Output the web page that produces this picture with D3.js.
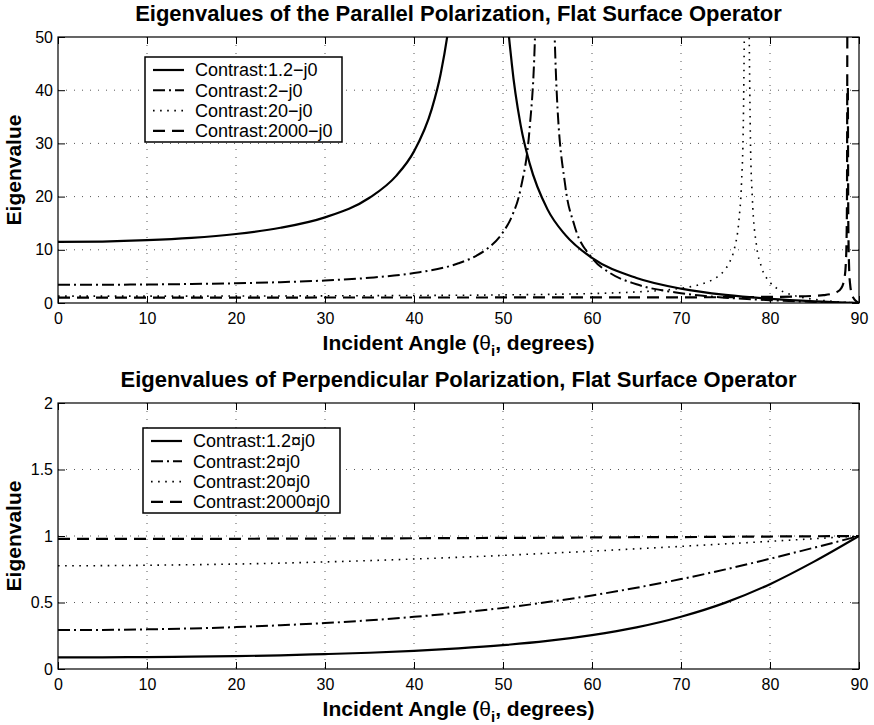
<!DOCTYPE html>
<html>
<head>
<meta charset="utf-8">
<script src="https://cdn.jsdelivr.net/npm/d3@7/dist/d3.min.js"></script>
<style>
  body { margin: 0; background: #fff; }
  svg text { font-family: "Liberation Sans", Arial, Helvetica, sans-serif; fill: #000; }
</style>
</head>
<body>
<div id="chart"></div>
<script>

// ---- tick labels / text ----
var xTicks = [0, 10, 20, 30, 40, 50, 60, 70, 80, 90];
var topYTicks = [0, 10, 20, 30, 40, 50];
var botYTicks = [0, 0.5, 1, 1.5, 2];
var topTitle = "Eigenvalues of the Parallel Polarization, Flat Surface Operator";
var botTitle = "Eigenvalues of Perpendicular Polarization, Flat Surface Operator";
var topLegend = ["Contrast:1.2\u2212j0", "Contrast:2\u2212j0", "Contrast:20\u2212j0", "Contrast:2000\u2212j0"];
var botLegend = ["Contrast:1.2\u00a4j0", "Contrast:2\u00a4j0", "Contrast:20\u00a4j0", "Contrast:2000\u00a4j0"];

// ---- parallel polarization (null = pole, line breaks there) ----
var parAngle12 = [0, 5, 10, 15, 20, 25, 30, 35, 38, 40, 42, 43, 44, 45, 46, 47, 47.6, 49, 50, 51, 52, 53, 55, 57, 60, 65, 70, 75, 80, 85, 90];
var parValue12 = [11.48, 11.55, 11.80, 12.24, 12.97, 14.14, 16.10, 19.78, 23.9, 28.5, 36.5, 43.1, 53.4, 71.5, 112, 287, null, 117, 65.9, 44.8, 33.3, 26.2, 17.6, 12.8, 8.47, 4.69, 2.69, 1.51, 0.77, 0.30, 0];

var parAngle2 = [0, 5, 10, 15, 20, 25, 30, 35, 40, 45, 47, 48, 50, 51, 52, 53, 53.5, 54, 54.7, 55.5, 56, 57, 58, 60, 62, 65, 70, 75, 80, 85, 90];
var parValue2 = [3.41, 3.43, 3.48, 3.57, 3.71, 3.92, 4.23, 4.74, 5.63, 7.46, 8.88, 9.91, 13.3, 16.3, 21.6, 33.0, 45.6, 75.2, null, 68.9, 40.9, 22.0, 14.7, 8.47, 5.66, 3.52, 1.84, 1.00, 0.52, 0.21, 0];

var parAngle20 = [0, 10, 20, 30, 40, 50, 55, 60, 65, 68, 70, 72, 73, 74, 75, 75.5, 76, 76.5, 76.8, 77, 77.2, 77.4, 77.6, 77.8, 78, 78.5, 79, 80, 81, 82, 83, 85, 87, 90];
var parValue20 = [1.29, 1.29, 1.31, 1.35, 1.41, 1.52, 1.62, 1.78, 2.08, 2.40, 2.77, 3.41, 3.95, 4.81, 6.39, 7.81, 10.2, 15.4, 22.6, 33.5, 66.9, null, 61.9, 30.8, 20.2, 10.6, 6.98, 3.91, 2.54, 1.76, 1.27, 0.67, 0.32, 0];

var parAngle2000 = [0, 10, 20, 30, 40, 50, 60, 65, 70, 75, 80, 83, 85, 86, 87, 87.5, 88, 88.2, 88.4, 88.5, 88.6, 88.65, 88.7, 88.72, 88.75, 88.8, 88.9, 89, 89.2, 89.4, 89.6, 89.8, 90];
var parValue2000 = [1.02, 1.02, 1.02, 1.03, 1.03, 1.04, 1.05, 1.06, 1.07, 1.09, 1.15, 1.22, 1.35, 1.47, 1.75, 2.05, 2.78, 3.47, 5.02, 6.85, 11.8, 19.6, 68, null, 40.4, 14.8, 6.07, 3.56, 1.66, 0.88, 0.45, 0.19, 0];

// ---- perpendicular polarization ----
var perpAngle = [0, 5, 10, 15, 20, 25, 30, 35, 40, 45, 50, 55, 60, 65, 70, 75, 80, 85, 90];
var perpValue12 = [0.087, 0.088, 0.090, 0.093, 0.097, 0.103, 0.112, 0.122, 0.136, 0.155, 0.179, 0.211, 0.255, 0.313, 0.393, 0.499, 0.638, 0.809, 1.0];
var perpValue2 = [0.293, 0.294, 0.298, 0.305, 0.315, 0.329, 0.345, 0.366, 0.392, 0.423, 0.459, 0.503, 0.553, 0.611, 0.676, 0.749, 0.829, 0.913, 1.0];
var perpValue20 = [0.776, 0.777, 0.780, 0.784, 0.789, 0.796, 0.805, 0.815, 0.827, 0.840, 0.854, 0.870, 0.886, 0.904, 0.922, 0.941, 0.960, 0.980, 1.0];
var perpValue2000 = [0.978, 0.978, 0.978, 0.978, 0.979, 0.980, 0.981, 0.982, 0.983, 0.984, 0.986, 0.987, 0.989, 0.991, 0.992, 0.994, 0.996, 0.998, 1.0];

// line styles for the 4 contrasts
var styles = [
  { dash: null, width: 2.2 },
  { dash: "12,4,2,4", width: 2 },
  { dash: "1.6,5.5", width: 1.6 },
  { dash: "12,7", width: 2.2 }
];

var svgWidth = 874, svgHeight = 725;
var margin = { left: 58, right: 15 };
var width = 859 - margin.left;
var height = 266;

var svg = d3.select("#chart").append("svg")
  .attr("width", svgWidth)
  .attr("height", svgHeight);

function drawPanel(opts) {
  var g = svg.append("g")
    .attr("transform", `translate(${margin.left}, ${opts.top})`);

  var x = d3.scaleLinear().domain([0, 90]).range([0, width]);
  var y = d3.scaleLinear().domain(opts.yDomain).range([height, 0]);

  // grid
  g.append("g").selectAll("line.vg")
    .data(xTicks.slice(1, -1)).enter().append("line")
    .attr("x1", d => x(d)).attr("x2", d => x(d))
    .attr("y1", 0).attr("y2", height)
    .attr("stroke", "#444").attr("stroke-width", 0.9)
    .attr("stroke-dasharray", "1,7");
  g.append("g").selectAll("line.hg")
    .data(opts.yTicks.slice(1, -1)).enter().append("line")
    .attr("y1", d => y(d)).attr("y2", d => y(d))
    .attr("x1", 0).attr("x2", width)
    .attr("stroke", "#444").attr("stroke-width", 0.9)
    .attr("stroke-dasharray", "1,7");

  // axes (ticks inside)
  var bottom = g.append("g").attr("transform", `translate(0, ${height})`)
    .call(d3.axisBottom(x).tickValues(xTicks).tickSizeInner(-7).tickSizeOuter(0).tickPadding(10));
  var top = g.append("g")
    .call(d3.axisTop(x).tickValues(xTicks).tickSizeInner(-7).tickSizeOuter(0).tickFormat(""));
  var left = g.append("g")
    .call(d3.axisLeft(y).tickValues(opts.yTicks).tickSizeInner(-7).tickSizeOuter(0).tickPadding(5).tickFormat(d3.format("")));
  var right = g.append("g").attr("transform", `translate(${width}, 0)`)
    .call(d3.axisRight(y).tickValues(opts.yTicks).tickSizeInner(-7).tickSizeOuter(0).tickFormat(""));
  [bottom, top, left, right].forEach(function(a) {
    a.select(".domain").remove();
    a.selectAll(".tick line").attr("stroke", "#000");
    a.selectAll(".tick text").style("font-size", "16px").attr("fill", "#000");
  });

  // clip
  g.append("clipPath").attr("id", opts.id)
    .append("rect").attr("width", width).attr("height", height);

  var line = d3.line()
    .defined(d => d[1] !== null)
    .x(d => x(d[0]))
    .y(d => y(d[1]))
    .curve(d3.curveMonotoneX);

  g.append("g").attr("clip-path", `url(#${opts.id})`)
    .selectAll("path")
    .data(opts.series).enter().append("path")
    .attr("d", d => line(d3.zip(d.angles, d.values)))
    .attr("fill", "none")
    .attr("stroke", "#000")
    .attr("stroke-width", (d, i) => styles[i].width)
    .attr("stroke-dasharray", (d, i) => styles[i].dash);

  // box
  g.append("rect")
    .attr("width", width).attr("height", height)
    .attr("fill", "none").attr("stroke", "#000").attr("stroke-width", 1.2);

  // legend
  var leg = g.append("g").attr("transform", `translate(${opts.legX}, ${opts.legY})`);
  leg.append("rect")
    .attr("width", 197).attr("height", 85)
    .attr("fill", "#fff").attr("stroke", "#000").attr("stroke-width", 1.5);
  var rows = leg.selectAll("g.row").data(opts.labels).enter().append("g")
    .attr("transform", (d, i) => `translate(0, ${13 + i * 20.3})`);
  rows.append("line")
    .attr("x1", 8).attr("x2", 39).attr("y1", 0).attr("y2", 0)
    .attr("stroke", "#000")
    .attr("stroke-width", (d, i) => styles[i].width)
    .attr("stroke-dasharray", (d, i) => styles[i].dash);
  rows.append("text")
    .attr("x", 50).attr("dy", "0.36em")
    .style("font-size", "18px")
    .text(d => d);

  // title
  g.append("text")
    .attr("x", width / 2).attr("y", -16)
    .attr("text-anchor", "middle")
    .style("font-size", "22px").style("font-weight", "bold")
    .text(opts.title);

  // x label
  var xl = g.append("text")
    .attr("x", width / 2).attr("y", height + 47)
    .attr("text-anchor", "middle")
    .style("font-size", "21px").style("font-weight", "bold");
  xl.append("tspan").text("Incident Angle (");
  xl.append("tspan").style("font-weight", "normal").text("\u03b8");
  xl.append("tspan").attr("dy", 6).style("font-size", "15px").text("i");
  xl.append("tspan").attr("dy", -6).text(", degrees)");

  // y label
  g.append("text")
    .attr("transform", "rotate(-90)")
    .attr("x", -height / 2).attr("y", 21 - margin.left)
    .attr("text-anchor", "middle")
    .style("font-size", "21px").style("font-weight", "bold")
    .text("Eigenvalue");
}

drawPanel({
  id: "clipTop", top: 37, yDomain: [0, 50], yTicks: topYTicks,
  title: topTitle, labels: topLegend, legX: 87, legY: 20,
  series: [
    { angles: parAngle12, values: parValue12 },
    { angles: parAngle2, values: parValue2 },
    { angles: parAngle20, values: parValue20 },
    { angles: parAngle2000, values: parValue2000 }
  ]
});

drawPanel({
  id: "clipBot", top: 403, yDomain: [0, 2], yTicks: botYTicks,
  title: botTitle, labels: botLegend, legX: 85, legY: 25,
  series: [
    { angles: perpAngle, values: perpValue12 },
    { angles: perpAngle, values: perpValue2 },
    { angles: perpAngle, values: perpValue20 },
    { angles: perpAngle, values: perpValue2000 }
  ]
});

</script>
</body>
</html>
